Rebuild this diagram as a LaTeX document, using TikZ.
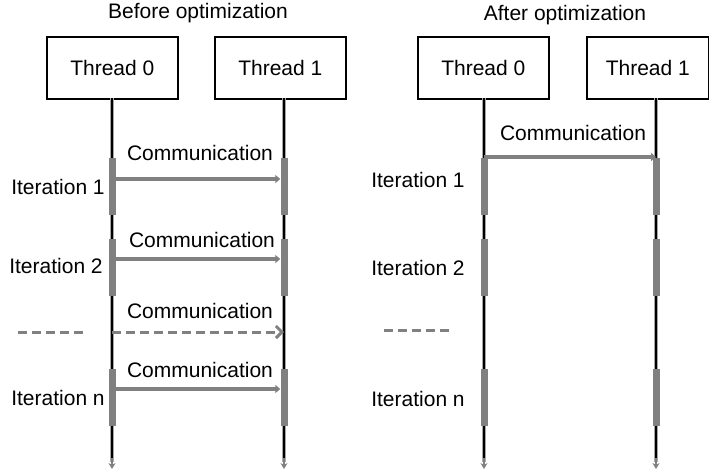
\documentclass[tikz,border=0pt]{standalone}
\usepackage{fontspec}
\setmainfont{Liberation Sans}
\usetikzlibrary{arrows.meta}
\definecolor{msggray}{RGB}{128,128,128}
\tikzset{
  lbl/.style={font=\fontsize{21}{25}\selectfont, inner sep=0pt},
  threadbox/.style={draw=black, line width=1.6pt, anchor=north west, inner sep=0pt, font=\fontsize{21}{25}\selectfont},
  lifehalo/.style={draw=msggray!70, line width=3.6pt},
  lifecore/.style={draw=black, line width=1.6pt},
  lifetip/.style={draw=msggray, line width=1.4pt, -{Stealth[length=6pt,width=7pt]}},
  bar/.style={fill=msggray, draw=none, minimum width=7pt, minimum height=57pt, inner sep=0pt},
  msg/.style={draw=msggray, line width=4pt, -{Triangle[length=5pt,width=8pt]}},
  msgdash/.style={draw=msggray, line width=3pt, dash pattern=on 9pt off 5pt, -{Straight Barb[length=6pt,width=12pt]}},
  gap/.style={draw=msggray, line width=3pt, dash pattern=on 9pt off 5pt},
}
\begin{document}
\begin{tikzpicture}[x=1pt,y=-1pt]
\useasboundingbox (0,0) rectangle (709,471);

% titles
\node[lbl] (titleA) at (198,13) {Before optimization};
\node[lbl] (titleB) at (565,15) {After optimization};

% thread boxes
\node[threadbox, minimum width=131pt, minimum height=62pt] (A0) at (46,36) {Thread 0};
\node[threadbox, minimum width=131pt, minimum height=62pt] (A1) at (214,36) {Thread 1};
\node[threadbox, minimum width=131pt, minimum height=62pt] (B0) at (417,36) {Thread 0};
\node[threadbox, minimum width=122pt, minimum height=62pt] (B1) at (586,36) {Thread 1};

% lifelines: top, end of the solid part, and arrow tip
\foreach \t/\x in {A0/112,A1/284,B0/484,B1/656}{
  \coordinate (\t top) at (\x,98);
  \coordinate (\t stop) at (\x,462);
  \coordinate (\t tipstart) at (\x,458);
  \coordinate (\t end) at (\x,469);
  \draw[lifehalo] (\t top) -- (\t stop);
  \draw[lifecore] (\t top) -- (\t stop);
  \draw[lifetip] (\t tipstart) -- (\t end);
}

% activation bars
\foreach \t in {A0,A1,B0,B1}{
  \node[bar] (\t i1) at (\t top |- 0,186.5) {};
  \node[bar] (\t i2) at (\t top |- 0,267) {};
  \node[bar] (\t in) at (\t top |- 0,397.5) {};
}

% iteration labels
\node[lbl] (A0l1) at (58,187) {Iteration 1};
\node[lbl] (A0l2) at (56,266) {Iteration 2};
\node[lbl] (A0ln) at (58,398) {Iteration n};
\node[lbl] (B0l1) at (418,180) {Iteration 1};
\node[lbl] (B0l2) at (418,268) {Iteration 2};
\node[lbl] (B0ln) at (418,399) {Iteration n};

% elided iterations
\coordinate (gapA1) at (18,332); \coordinate (gapA2) at (87,332);
\coordinate (gapB1) at (384,330); \coordinate (gapB2) at (453,330);
\draw[gap] (gapA1) -- (gapA2);
\draw[gap] (gapB1) -- (gapB2);

% messages before optimization
\coordinate (mA1) at (112,179);
\coordinate (mA2) at (112,259);
\coordinate (mA3) at (112,332);
\coordinate (mAn) at (112,389);
\draw[msg] (mA1) -- (A1i1.west |- mA1);
\draw[msg] (mA2) -- (A1i2.west |- mA2);
\draw[msgdash] (mA3) -- (A1top |- mA3);
\draw[msg] (mAn) -- (A1in.west |- mAn);
\node[lbl] (cA1) at (200,153) {Communication};
\node[lbl] (cA2) at (202,240) {Communication};
\node[lbl] (cA3) at (200,311) {Communication};
\node[lbl] (cAn) at (200,370) {Communication};

% message after optimization
\coordinate (mB1) at (484,157);
\draw[msg] (mB1) -- (B1top |- mB1);
\node[lbl] (cB1) at (573,133) {Communication};
\end{tikzpicture}
\end{document}
